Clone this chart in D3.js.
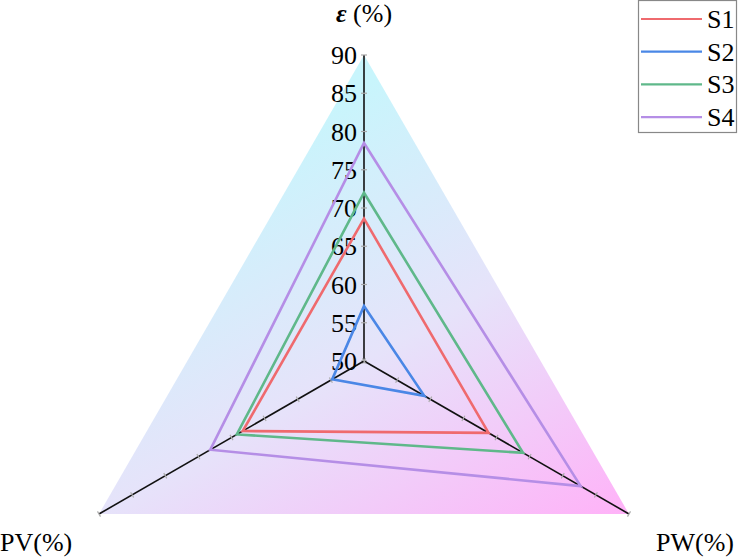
<!DOCTYPE html>
<html>
<head>
<meta charset="utf-8">
<script src="https://cdn.jsdelivr.net/npm/d3@7"></script>
<style>
  html, body { margin: 0; padding: 0; background: #fff; }
  svg { display: block; }
  text { font-family: "Liberation Serif", "Times New Roman", serif; fill: #000; }
</style>
</head>
<body>
<svg id="chart" width="740" height="558"></svg>
<script>
// ---- data ----
const axisNames = ["ε", "PW", "PV"];          // top, lower-right, lower-left
const axisAngles = [-90, 30, 150];            // degrees
const tickValues = [50, 55, 60, 65, 70, 75, 80, 85, 90];
const seriesNames = ["S1", "S2", "S3", "S4"];
const seriesColors = ["#ef6a6e", "#4a87e6", "#5fb88a", "#b58ee6"];
const S1 = [68.6, 68.8, 68.3];
const S2 = [57.2, 59.1, 54.8];
const S3 = [72.0, 74.0, 69.2];
const S4 = [78.5, 82.7, 73.2];
const seriesValues = [S1, S2, S3, S4];

// ---- layout ----
const svg = d3.select("#chart");
const cx = 364, cy = 361, R = 306;
const r = d3.scaleLinear().domain([50, 90]).range([0, R]);
const pt = (i, v) => {
  const a = axisAngles[i] * Math.PI / 180;
  return [cx + r(v) * Math.cos(a), cy + r(v) * Math.sin(a)];
};

// gradient background triangle
const defs = svg.append("defs");
const apex = pt(0, 90), brc = pt(1, 90);
const grad = defs.append("linearGradient").attr("id", "bg")
  .attr("gradientUnits", "userSpaceOnUse")
  .attr("x1", apex[0]).attr("y1", apex[1]).attr("x2", brc[0]).attr("y2", brc[1]);
grad.append("stop").attr("offset", 0.05).attr("stop-color", "#c8f5fc");
grad.append("stop").attr("offset", 0.5).attr("stop-color", "#e6e3fa");
grad.append("stop").attr("offset", 1).attr("stop-color", "#ffb2f8");

svg.append("polygon")
  .attr("points", [0, 1, 2].map(i => pt(i, 90).join(",")).join(" "))
  .attr("fill", "url(#bg)");

// axes
[0, 1, 2].forEach(i => {
  const [x2, y2] = pt(i, 90);
  svg.append("line").attr("x1", cx).attr("y1", cy).attr("x2", x2).attr("y2", y2)
    .attr("stroke", "#111").attr("stroke-width", 1.6);
  const a = axisAngles[i] * Math.PI / 180;
  const px = -Math.sin(a), py = Math.cos(a);
  tickValues.forEach(t => {
    const [x, y] = pt(i, t);
    svg.append("line")
      .attr("x1", x - px * 3).attr("y1", y - py * 3)
      .attr("x2", x + px * 3).attr("y2", y + py * 3)
      .attr("stroke", "#aaa").attr("stroke-width", 1.2);
  });
});

// tick labels on epsilon axis
svg.selectAll("text.tick").data(tickValues).enter().append("text")
  .attr("class", "tick")
  .attr("x", cx - 7)
  .attr("y", d => pt(0, d)[1] + 9)
  .attr("text-anchor", "end")
  .attr("font-size", 26)
  .text(d => d);

// series
const line = d3.line().curve(d3.curveLinearClosed);
seriesValues.forEach((vals, k) => {
  svg.append("path")
    .attr("d", line(vals.map((v, i) => pt(i, v))))
    .attr("fill", "none")
    .attr("stroke", seriesColors[k])
    .attr("stroke-width", 2.6)
    .attr("stroke-linejoin", "miter");
});

// axis titles
const t0 = svg.append("text").attr("x", cx).attr("y", 22).attr("text-anchor", "middle").attr("font-size", 26);
t0.append("tspan").attr("font-weight", "bold").attr("font-style", "italic").text(axisNames[0]);
t0.append("tspan").text(" (%)");
svg.append("text").attr("x", 0).attr("y", 551).attr("font-size", 26).text(axisNames[2] + "(%)");
svg.append("text").attr("x", 734).attr("y", 551).attr("text-anchor", "end").attr("font-size", 26).text(axisNames[1] + "(%)");

// legend
const lg = svg.append("g");
lg.append("rect").attr("x", 638.5).attr("y", 0.5).attr("width", 98).attr("height", 132)
  .attr("fill", "#fff").attr("stroke", "#888").attr("stroke-width", 1.2);
seriesNames.forEach((n, k) => {
  const y = 19 + k * 32.7;
  lg.append("line").attr("x1", 641).attr("x2", 702).attr("y1", y).attr("y2", y)
    .attr("stroke", seriesColors[k]).attr("stroke-width", 2.2);
  lg.append("text").attr("x", 707).attr("y", y + 9).attr("font-size", 26).text(n);
});
</script>
</body>
</html>
